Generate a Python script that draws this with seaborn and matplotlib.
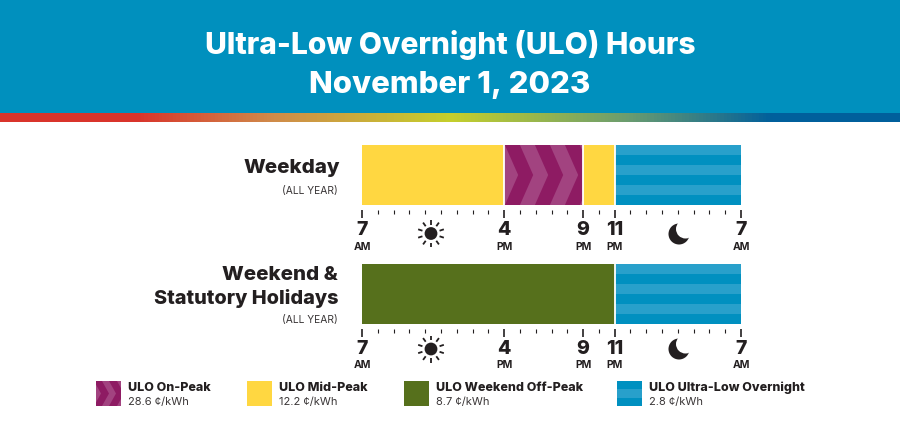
import numpy as np
import matplotlib
matplotlib.use("Agg")
import matplotlib.pyplot as plt
import seaborn as sns
from matplotlib.colors import LinearSegmentedColormap
from matplotlib.patches import Circle, Polygon, Rectangle

# hours counted from 7 AM
weekday_periods = ["Mid-Peak", "On-Peak", "Mid-Peak", "Overnight"]
weekday_starts = [0, 9, 14, 16]
weekday_hours = [9, 5, 2, 8]
weekend_periods = ["Off-Peak", "Overnight"]
weekend_starts = [0, 16]
weekend_hours = [16, 8]

tick_hours = [0, 9, 14, 16, 24]
tick_numbers = ["7", "4", "9", "11", "7"]
tick_suffix = ["AM", "PM", "PM", "PM", "AM"]

legend_names = ["ULO On-Peak", "ULO Mid-Peak", "ULO Weekend Off-Peak", "ULO Ultra-Low Overnight"]
legend_rates = ["28.6 ¢/kWh", "12.2 ¢/kWh", "8.7 ¢/kWh", "2.8 ¢/kWh"]
legend_periods = ["On-Peak", "Mid-Peak", "Off-Peak", "Overnight"]

colors = {"On-Peak": "#8e1b63", "Mid-Peak": "#ffd741", "Off-Peak": "#56701c", "Overnight": "#0090c0"}
CHEVRON = "#a24380"
STRIPE = "#28a0cb"
INK = "#231f20"
W, H = 900, 421


def add_chevrons(ax, x0, x1, top, bottom, first, period, slope, band):
    # light arrows clipped to the segment
    clip = Rectangle((x0, top), x1 - x0, bottom - top, transform=ax.transData)
    mid = (top + bottom) / 2
    left = first
    while left < x1:
        pts = [(left, top), (left + band, top), (left + band + slope, mid),
               (left + band, bottom), (left, bottom), (left + slope, mid)]
        poly = Polygon(pts, color=CHEVRON, lw=0, zorder=3)
        ax.add_patch(poly)
        poly.set_clip_path(clip)
        left += period


def add_stripes(ax, x0, x1, top, bottom, n, first=0):
    step = (bottom - top) / n
    for i in range(first, n, 2):
        ax.add_patch(Rectangle((x0, top + i * step), x1 - x0, step, color=STRIPE, lw=0, zorder=3))


def draw_row(rect, periods, starts, hours):
    ax = fig.add_axes(rect, facecolor="none")
    for name, start, width in zip(periods, starts, hours):
        sns.barplot(x=[width], y=["row"], left=[start], color=colors[name], saturation=1,
                    width=1, edgecolor="white", linewidth=0, ax=ax)
    ax.set_xlim(0, 24)
    ax.set_ylim(0.5, -0.5)
    ax.set_xlabel("")
    ax.set_ylabel("")
    ax.set_yticks([])
    for name, start, width in zip(periods, starts, hours):
        if name == "On-Peak":
            add_chevrons(ax, start, start + width, -0.5, 0.5, start - 0.9, 1.9, 0.84, 0.95)
        if name == "Overnight":
            add_stripes(ax, start, start + width, -0.5, 0.5, 6)
    # white seams between the segments
    for start in starts[1:]:
        ax.axvline(start, color="white", lw=1.3, zorder=4)
    for side in ax.spines:
        ax.spines[side].set_visible(False)
    ax.spines["bottom"].set_position(("outward", 3.6))
    ax.set_xticks(tick_hours)
    ax.set_xticklabels(tick_numbers, fontsize=14, fontweight=800, color=INK)
    ax.set_xticks(range(25), minor=True)
    ax.tick_params(axis="x", which="major", length=6, width=1.2, color=INK, pad=2.2, bottom=True)
    ax.tick_params(axis="x", which="minor", length=3, width=0.8, color=INK, bottom=True)
    for hour, suffix in zip(tick_hours, tick_suffix):
        ax.annotate(suffix, (hour, 0), xycoords=ax.get_xaxis_transform(), xytext=(0, -26.5),
                    textcoords="offset points", ha="center", va="top", fontsize=7.5,
                    fontweight="bold", color=INK)
    return ax


def draw_sun(ax, cx, cy):
    ax.add_patch(Circle((cx, cy), 6.4, color=INK, lw=0))
    for angle in np.arange(-90, 270, 36):
        a = np.radians(angle)
        ax.plot([cx + 9 * np.cos(a), cx + 13.5 * np.cos(a)], [cy + 9 * np.sin(a), cy + 13.5 * np.sin(a)],
                color=INK, lw=1.3, solid_capstyle="butt")


def draw_moon(ax, cx, cy):
    ax.add_patch(Circle((cx, cy), 10.5, color=INK, lw=0))
    ax.add_patch(Circle((cx + 6.5, cy - 5), 9.5, color="white", lw=0))


sns.set_theme(style="white")
plt.rcParams["font.family"] = ["Inter", "DejaVu Sans"]

fig = plt.figure(figsize=(W / 100, H / 100), dpi=100)

# page layer in pixel coordinates
page = fig.add_axes([0, 0, 1, 1])
page.set_xlim(0, W)
page.set_ylim(H, 0)
page.axis("off")
page.add_patch(Rectangle((0, 0), W, 113, color="#0090be", lw=0))
ramp = LinearSegmentedColormap.from_list("ramp", [
    (0, "#d9342b"), (0.15, "#d9342b"), (0.3, "#d08a4a"), (0.5, "#c5cf2c"),
    (0.7, "#6a9c70"), (0.86, "#005f9c"), (1, "#005f9c")])
page.imshow(np.linspace(0, 1, 900).reshape(1, -1), cmap=ramp, extent=(0, W, 122, 113), aspect="auto", zorder=2)
page.set_xlim(0, W)
page.set_ylim(H, 0)

page.text(450, 45.5, "Ultra-Low Overnight (ULO) Hours", color="white", fontsize=21.6, fontweight=800, ha="center", va="center")
page.text(450, 85, "November 1, 2023", color="white", fontsize=22.4, fontweight=800, ha="center", va="center")

page.text(340.5, 168, "Weekday", color=INK, fontsize=14.8, fontweight=800, ha="right", va="center")
page.text(338, 191, "(ALL YEAR)", color="#3a3637", fontsize=7.4, ha="right", va="center")
page.text(338, 275, "Weekend &", color=INK, fontsize=14.8, fontweight=800, ha="right", va="center")
page.text(338, 298, "Statutory Holidays", color=INK, fontsize=14.3, fontweight=800, ha="right", va="center")
page.text(338, 320, "(ALL YEAR)", color="#3a3637", fontsize=7.4, ha="right", va="center")

draw_sun(page, 431, 233.5)
draw_moon(page, 679, 234)
draw_sun(page, 431, 349)
draw_moon(page, 679, 349)

# legend
swatch_x = [96, 247, 404, 617]
text_x = [128, 279, 436, 649]
for sx, tx, name, rate, period in zip(swatch_x, text_x, legend_names, legend_rates, legend_periods):
    page.add_patch(Rectangle((sx, 381), 25, 25, color=colors[period], lw=0))
    if period == "On-Peak":
        add_chevrons(page, sx, sx + 25, 381, 406, sx - 9, 15, 7, 7)
    if period == "Overnight":
        add_stripes(page, sx, sx + 25, 381, 406, 3, first=1)
    page.text(tx, 388, name, color=INK, fontsize=9, fontweight=800, ha="left", va="center")
    page.text(tx, 402, rate, color="#3a3637", fontsize=8, ha="left", va="center")

# the two schedule rows
x_left = 362 / W
x_width = 379 / W
draw_row([x_left, 1 - 205 / H, x_width, 60 / H], weekday_periods, weekday_starts, weekday_hours)
draw_row([x_left, 1 - 323.5 / H, x_width, 59.5 / H], weekend_periods, weekend_starts, weekend_hours)

fig.savefig("out.png", dpi=100)
